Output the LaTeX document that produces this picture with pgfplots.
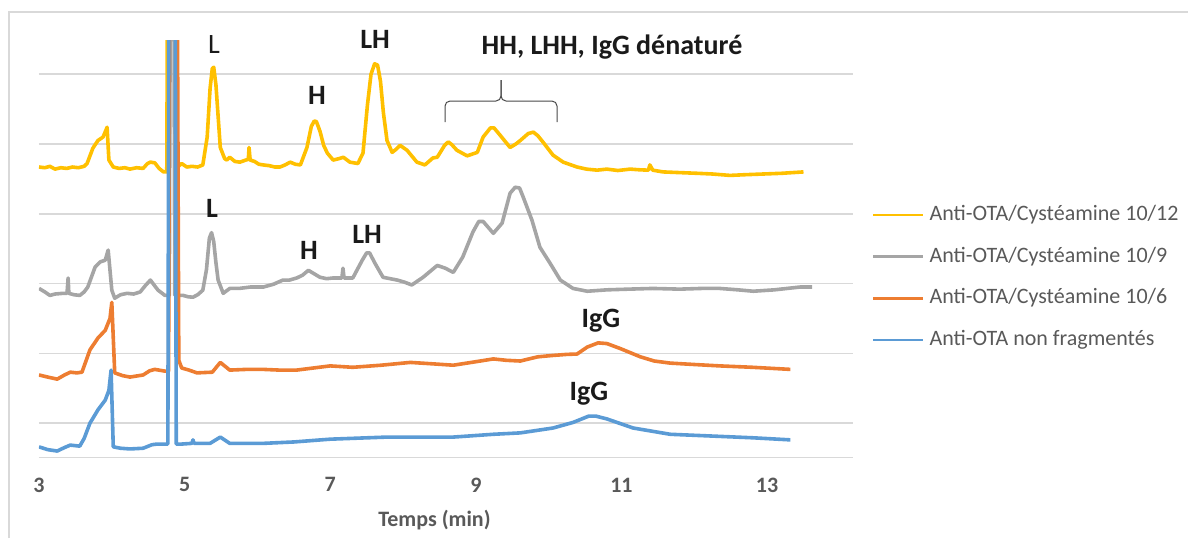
\documentclass[border=0pt]{standalone}
\usepackage{pgfplots}
\pgfplotsset{compat=1.18}
\usepackage{fontspec}
\setmainfont{Carlito}
\definecolor{cyel}{HTML}{FFC000}
\definecolor{cgry}{HTML}{A5A5A5}
\definecolor{corg}{HTML}{ED7D31}
\definecolor{cblu}{HTML}{5B9BD5}
\definecolor{ctxt}{HTML}{595959}
\definecolor{cgrid}{HTML}{D9D9D9}
\definecolor{cann}{HTML}{1A1A1A}
\begin{document}
\begin{tikzpicture}
\begin{axis}[
  at={(19.5pt,-228.65pt)}, anchor=south west,
  scale only axis, width=407pt, height=208.65pt,
  xmin=3, xmax=14.18, ymin=-0.49, ymax=5.49,
  axis x line*=bottom, axis y line*=left,
  x axis line style={cgrid, line width=0.8pt, -},
  y axis line style={draw=none},
  xtick={3,5,7,9,11,13}, major tick length=0pt,
  ytick={0,1,2,3,4,5}, yticklabels={},
  ymajorgrids, grid style={cgrid, line width=0.8pt},
  /pgf/number format/assume math mode=true,
  xticklabel style={font=\bfseries\fontsize{11}{13}\selectfont, text=ctxt, anchor=north, inner sep=0pt, yshift=-10pt},
  xlabel={Temps (min)},
  xlabel style={at={(axis description cs:0.4859,0)}, anchor=center, inner sep=0pt, yshift=-31.35pt, font=\bfseries\fontsize{11}{13}\selectfont, text=ctxt},
  legend cell align=left,
  legend image code/.code={\draw[#1, line width=1.3pt] (0pt,0pt) -- (25pt,0pt);},
  legend style={at={(axis description cs:1.0233,0.6058)}, anchor=north west, draw=none, fill=none, inner sep=0pt, outer sep=0pt, row sep=10.35pt, column sep=2.5pt, nodes={inner sep=0pt, text height=8pt, text depth=2.5pt, font=\fontsize{11}{13}\selectfont, text=ctxt}},
  every axis plot/.append style={line width=1.8pt, line join=round},
]
\addplot[cyel] coordinates {
(3.00,3.67)(3.08,3.66)(3.15,3.68)(3.22,3.64)(3.30,3.66)(3.38,3.65)(3.46,3.67)(3.54,3.66)(3.62,3.68)(3.66,3.72)
(3.74,3.94)(3.81,4.05)(3.88,4.10)(3.92,4.20)(3.935,4.24)(3.96,3.77)(4.02,3.67)(4.10,3.65)(4.18,3.66)(4.25,3.64)(4.34,3.66)
(4.43,3.65)(4.49,3.72)(4.53,3.74)(4.59,3.73)(4.65,3.65)(4.71,3.60)(4.755,3.60)(4.775,9)(4.86,9)(4.88,3.65)
(4.96,3.72)(5.03,3.67)(5.10,3.68)(5.18,3.67)(5.25,3.70)(5.31,4.10)(5.35,4.80)(5.38,5.08)(5.40,5.10)(5.43,4.85)(5.46,4.40)(5.49,3.95)(5.55,3.79)
(5.58,3.77)(5.62,3.81)(5.69,3.75)(5.76,3.74)(5.84,3.77)(5.875,3.78)(5.885,3.95)(5.90,3.77)(5.96,3.75)(6.02,3.71)
(6.08,3.70)(6.16,3.69)(6.24,3.67)(6.31,3.67)(6.38,3.70)(6.45,3.74)(6.52,3.71)(6.59,3.70)(6.68,3.95)(6.74,4.25)(6.78,4.33)(6.81,4.32)(6.86,4.18)
(6.91,3.98)(6.96,3.87)(7.04,3.77)(7.12,3.79)(7.18,3.81)(7.27,3.74)(7.38,3.72)(7.45,3.87)(7.51,4.55)(7.56,5.00)(7.61,5.15)(7.65,5.13)(7.69,4.90)
(7.73,4.45)(7.78,4.05)(7.85,3.88)(7.90,3.92)(7.96,3.98)(8.055,3.91)(8.19,3.74)(8.30,3.70)(8.41,3.80)(8.47,3.81)(8.57,3.98)(8.62,4.03)(8.67,3.99)
(8.74,3.91)(8.88,3.83)(9.02,3.88)(9.10,4.10)(9.20,4.23)(9.25,4.23)(9.33,4.13)(9.47,3.95)(9.55,4.00)(9.61,4.05)(9.72,4.15)(9.79,4.17)(9.85,4.12)(9.92,4.03)
(10.06,3.84)(10.20,3.74)(10.39,3.67)(10.52,3.64)(10.665,3.625)(10.80,3.64)(10.95,3.62)(11.12,3.64)(11.25,3.63)(11.37,3.625)
(11.39,3.70)(11.43,3.625)(11.57,3.60)(11.80,3.59)(12.04,3.58)(12.25,3.57)(12.49,3.55)(12.70,3.56)(12.95,3.57)(13.20,3.58)(13.50,3.60)
};
\addlegendentry{Anti-OTA/Cystéamine 10/12}
\addplot[cgry] coordinates {
(3.00,1.93)(3.08,1.88)(3.15,1.83)(3.22,1.85)(3.33,1.86)(3.385,1.86)(3.40,2.08)(3.41,1.86)(3.48,1.84)(3.56,1.83)
(3.62,1.88)(3.67,1.95)(3.77,2.235)(3.84,2.31)(3.91,2.335)(3.95,2.48)(4.00,1.905)(4.04,1.79)(4.12,1.84)(4.21,1.86)
(4.30,1.85)(4.39,1.88)(4.46,1.97)(4.53,2.05)(4.58,1.98)(4.635,1.905)(4.73,1.83)(4.79,1.83)(4.81,9)(4.845,9)
(4.865,1.83)(4.98,1.83)(5.05,1.81)(5.115,1.805)(5.18,1.84)(5.25,1.905)(5.30,2.20)(5.34,2.65)(5.37,2.73)(5.40,2.60)(5.43,2.30)(5.46,2.05)
(5.53,1.86)(5.62,1.93)(5.75,1.93)(5.90,1.95)(6.08,1.95)(6.22,1.99)(6.35,2.05)(6.44,2.05)(6.54,2.08)(6.62,2.12)
(6.70,2.19)(6.78,2.14)(6.86,2.09)(6.95,2.07)(7.04,2.08)(7.16,2.08)(7.175,2.22)(7.19,2.08)(7.31,2.08)(7.44,2.335)
(7.50,2.44)(7.54,2.44)(7.615,2.29)(7.725,2.09)(7.92,2.05)(8.02,2.02)(8.12,1.98)(8.275,2.09)(8.47,2.26)(8.58,2.22)(8.69,2.16)
(8.82,2.38)(8.96,2.74)(9.04,2.89)(9.10,2.89)(9.24,2.72)(9.36,2.865)(9.47,3.295)(9.54,3.38)(9.60,3.37)(9.65,3.24)(9.77,2.91)(9.88,2.52)
(10.02,2.29)(10.16,2.05)(10.335,1.93)(10.53,1.89)(10.80,1.91)(11.10,1.92)(11.43,1.93)(11.80,1.92)(12.10,1.93)(12.35,1.93)
(12.60,1.91)(12.81,1.89)(13.10,1.91)(13.45,1.95)(13.62,1.95)
};
\addlegendentry{Anti-OTA/Cystéamine 10/9}
\addplot[corg] coordinates {
(3.00,0.69)(3.12,0.66)(3.25,0.63)(3.35,0.69)(3.43,0.73)(3.52,0.72)(3.59,0.73)(3.70,1.05)(3.81,1.22)(3.91,1.33)
(3.975,1.50)(4.00,1.73)(4.04,0.72)(4.15,0.68)(4.25,0.66)(4.43,0.69)(4.52,0.75)(4.59,0.77)(4.73,0.745)(4.78,0.745)
(4.80,9)(4.89,9)(4.92,0.90)(4.96,0.79)(5.06,0.76)(5.17,0.72)(5.38,0.73)(5.49,0.87)(5.62,0.76)(5.85,0.77)
(6.08,0.77)(6.30,0.76)(6.54,0.76)(7.00,0.82)(7.31,0.80)(7.70,0.83)(8.10,0.87)(8.40,0.85)(8.69,0.83)(9.00,0.88)
(9.24,0.92)(9.42,0.90)(9.61,0.89)(9.85,0.95)(10.06,0.97)(10.25,0.985)(10.39,0.99)(10.53,1.09)(10.68,1.15)(10.80,1.14)(10.98,1.07)
(11.26,0.95)(11.45,0.89)(11.67,0.86)(12.00,0.84)(12.35,0.82)(12.80,0.80)(13.32,0.77)
};
\addlegendentry{Anti-OTA/Cystéamine 10/6}
\addplot[cblu] coordinates {
(3.00,-0.34)(3.12,-0.38)(3.25,-0.40)(3.35,-0.35)(3.43,-0.315)(3.56,-0.33)(3.62,-0.22)(3.70,0.00)(3.81,0.19)(3.91,0.33)
(3.96,0.47)(3.99,0.76)(4.02,-0.34)(4.12,-0.36)(4.25,-0.37)(4.43,-0.36)(4.55,-0.31)(4.62,-0.30)(4.73,-0.30)(4.77,-0.30)
(4.79,9)(4.865,9)(4.885,-0.30)(4.96,-0.30)(5.10,-0.29)(5.115,-0.24)(5.13,-0.29)(5.35,-0.29)(5.49,-0.20)(5.62,-0.29)
(6.08,-0.29)(6.50,-0.27)(7.00,-0.23)(7.78,-0.20)(8.69,-0.20)(9.24,-0.16)(9.61,-0.14)(10.06,-0.07)(10.335,0.01)(10.55,0.10)(10.65,0.10)
(10.80,0.06)(11.16,-0.07)(11.67,-0.16)(12.35,-0.19)(12.80,-0.21)(13.32,-0.24)
};
\addlegendentry{Anti-OTA non fragmentés}
\end{axis}
\begin{scope}[x=0.5pt,y=-0.5pt]
\draw[cgrid, line width=0.8pt] (9,538) -- (9,12) -- (1188,12);
\tikzset{lab/.style={anchor=base, inner sep=0pt, text=cann, font=\bfseries\fontsize{14}{16}\selectfont}}
\node[lab, font=\fontsize{14}{16}\selectfont] at (214,53) {L};
\node[lab] at (375,48) {LH};
\node[lab] at (317,104) {H};
\node[lab] at (612,54) {HH, LHH, IgG dénaturé};
\node[lab] at (212,217) {L};
\node[lab] at (309,259) {H};
\node[lab] at (367,243) {LH};
\node[lab] at (601,327) {IgG};
\node[lab] at (589,400) {IgG};
\draw[cann!80, line width=0.5pt, rounded corners=2.5pt] (445,122) -- (445,101) -- (501,101) -- (501,80);
\draw[cann!80, line width=0.5pt, rounded corners=2.5pt] (557,122) -- (557,101) -- (501,101) -- (501,80);
\end{scope}
\pgfresetboundingbox
\path[use as bounding box] (0,0) rectangle (594pt,-269pt);
\end{tikzpicture}
\end{document}
